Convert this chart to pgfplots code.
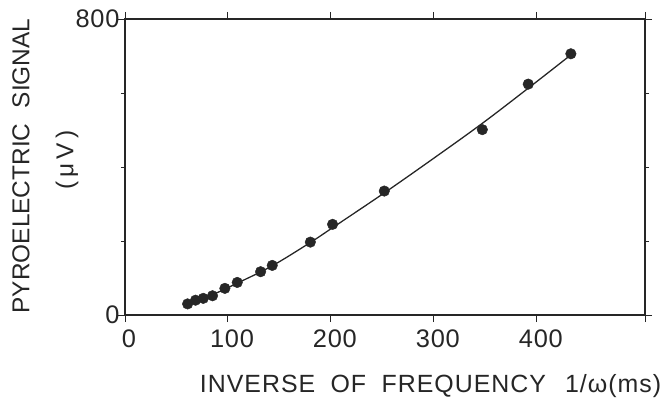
\documentclass[border=0pt]{standalone}
\usepackage{fontspec}
\setmainfont{Liberation Sans}
\usepackage{pgfplots}
\pgfplotsset{compat=1.18}
\begin{document}
\begin{tikzpicture}
\path[use as bounding box] (-125bp,-84bp) rectangle (547bp,315bp);
\begin{axis}[
  at={(0,0)}, anchor=south west,
  scale only axis, width=520bp, height=296bp,
  xmin=0, xmax=505, ymin=0, ymax=800,
  xtick={0,100,200,300,400}, ytick={0,800},
  minor ytick={200,400,600},
  extra x ticks={505}, extra x tick labels={},
  tick align=outside, major tick length=7bp, minor tick length=4bp,
  axis line style={line width=1.1pt, black!85},
  every tick/.style={line width=1pt, black!85},
  tick label style={font=\fontsize{25.5}{28}\selectfont\addfontfeatures{LetterSpace=3}, black!85},
  /pgf/number format/assume math mode=true,
  xticklabel style={xshift=4bp, yshift=-4bp},
  yticklabel style={xshift=5bp},
  clip=false,
]
\addplot[line width=1.3pt, black!85, smooth, tension=0.6] coordinates {
  (60.8,30) (85,55) (109,86) (143,133) (180,196) (201.6,236)
  (251.8,330) (300,424) (347,518) (391.6,613) (433,703)
};
\addplot[only marks, mark=*, mark size=5.3bp, black!85] coordinates {
  (60.8,30) (68.5,40) (76,45) (85,52) (97,72) (109,88) (131.7,117)
  (143,134) (180,197) (201.6,245) (251.8,335) (347,501) (391.6,624) (433,706)
};
\end{axis}
\node[rotate=90, font=\fontsize{24.5}{28}\selectfont, text=black!85] at (-104bp,149bp) {PYROELECTRIC\hspace{0.35em} SIGNAL};
\node[rotate=90, font=\fontsize{24.5}{28}\selectfont, text=black!85] at (-58bp,155bp) {(\,μ\,V\,)};
\node[anchor=base, font=\fontsize{25}{28}\selectfont\addfontfeatures{LetterSpace=4}, text=black!85] at (305.5bp,-77bp) {INVERSE\hspace{0.3em} OF\hspace{0.3em} FREQUENCY\hspace{0.45em} 1/ω(ms)};
\end{tikzpicture}
\end{document}
